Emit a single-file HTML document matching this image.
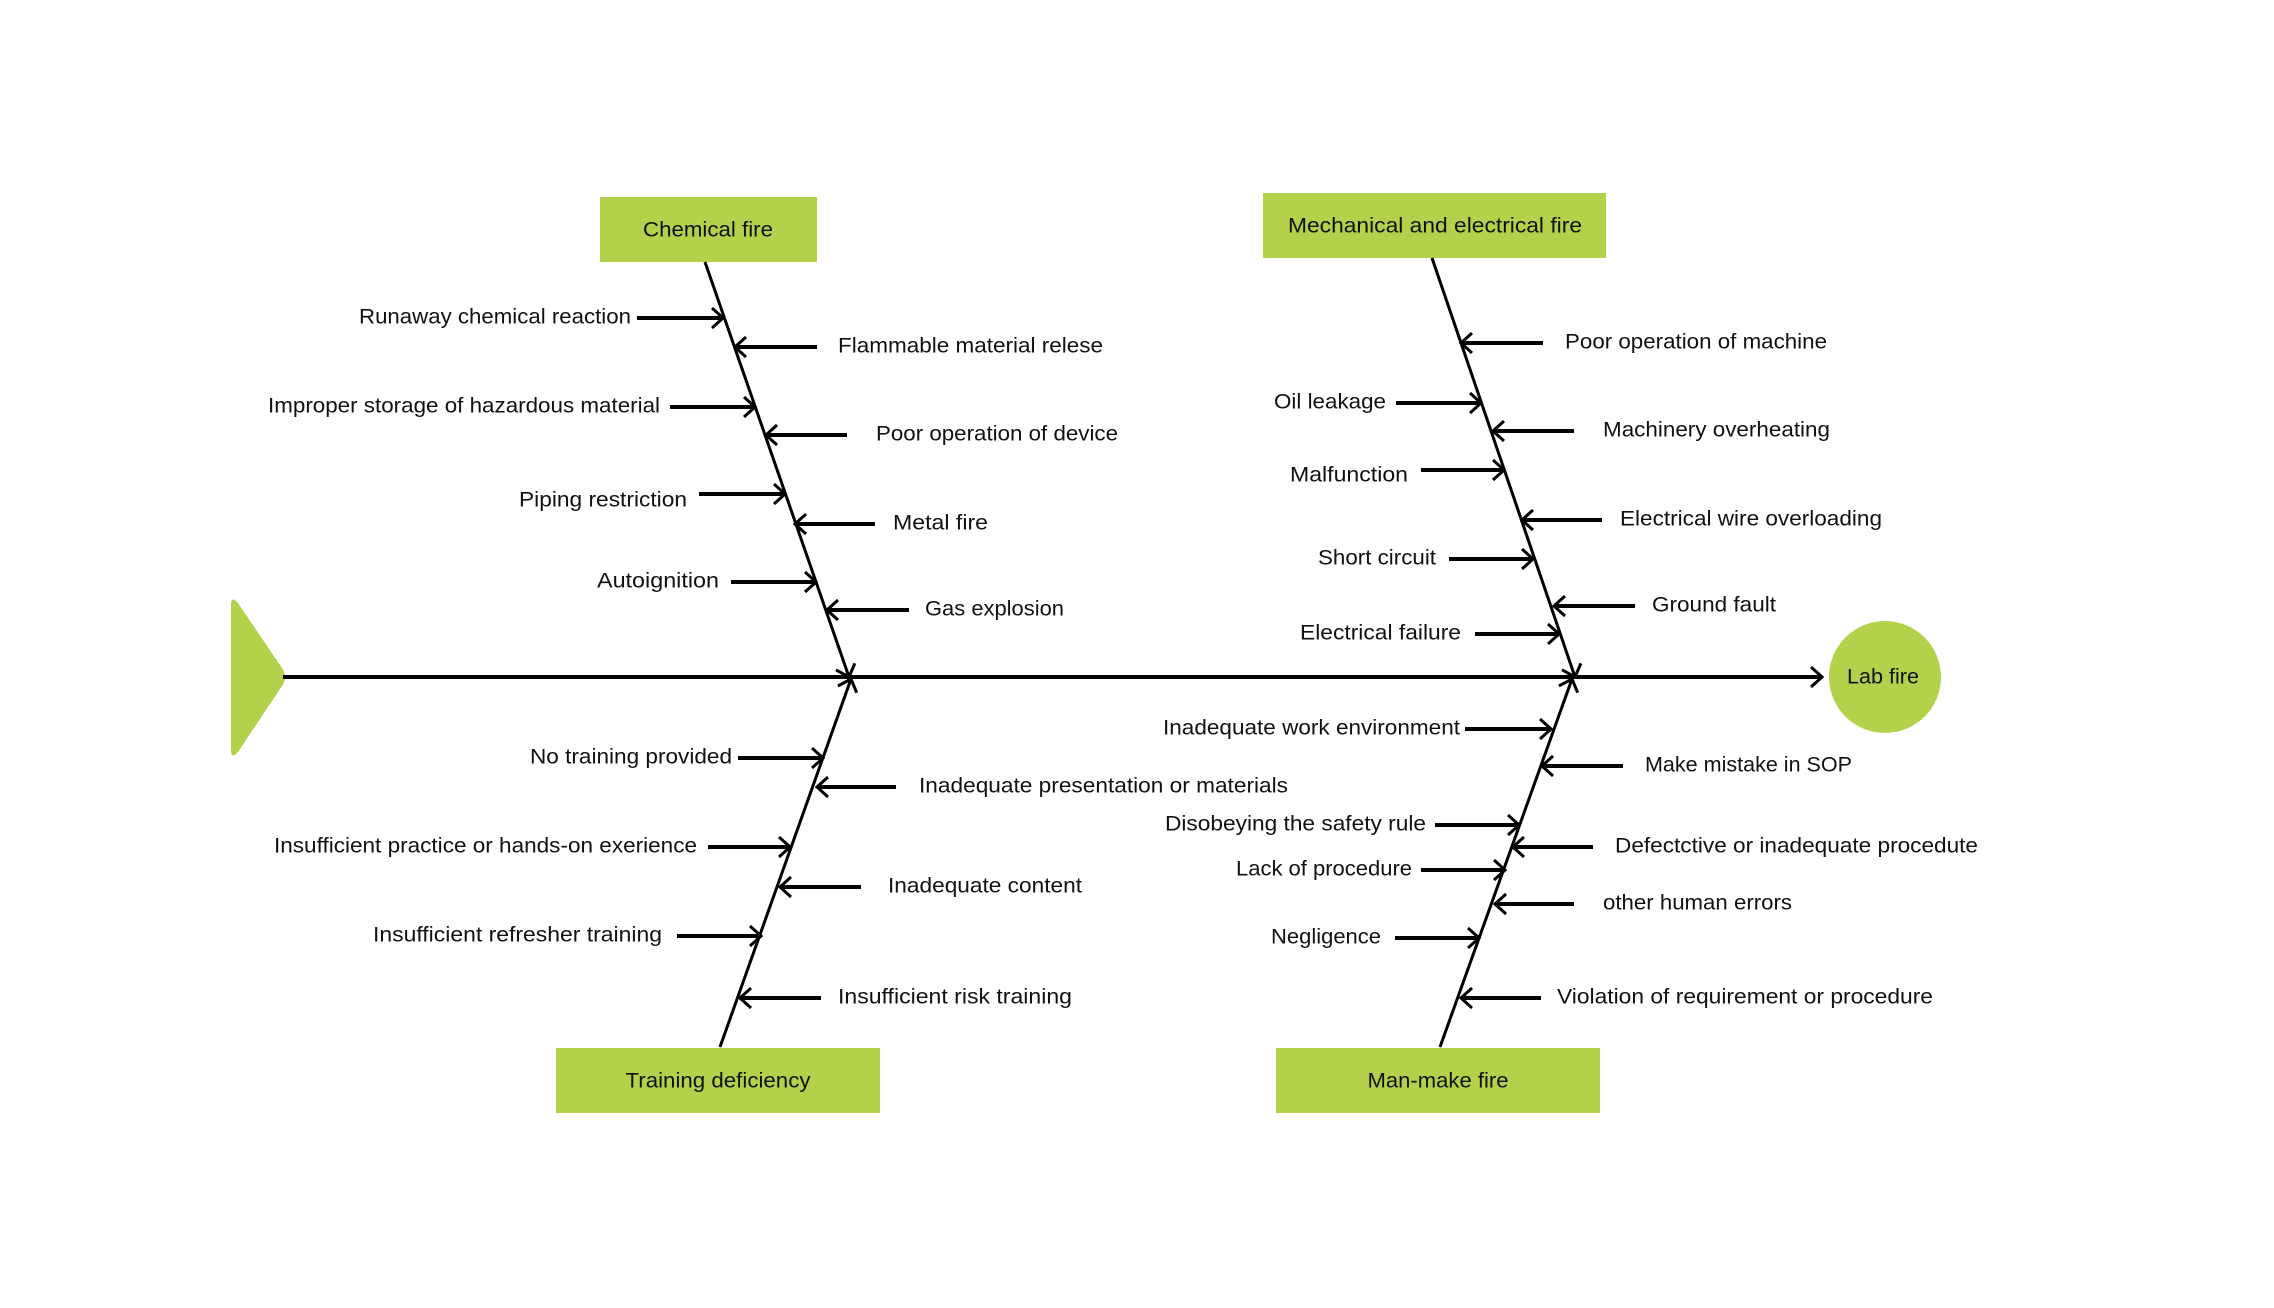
<!DOCTYPE html>
<html><head><meta charset="utf-8"><style>html,body{margin:0;padding:0;background:#fff;}svg{display:block}text{font-family:"Liberation Sans",sans-serif;font-size:21px;fill:#111;dominant-baseline:central}</style></head>
<body>
<svg width="2274" height="1308" viewBox="0 0 2274 1308" xmlns="http://www.w3.org/2000/svg">
<defs>
<marker id="a" viewBox="0 0 14 22" refX="12" refY="11" markerWidth="14" markerHeight="22" markerUnits="userSpaceOnUse" orient="auto">
<path d="M1,1 L12,11 L1,21" fill="none" stroke="#000" stroke-width="3"/>
</marker>
</defs>
<rect width="2274" height="1308" fill="#fff"/>
<!-- head -->
<path d="M231,605 Q231,595 238,603 L282,668 Q288,677 282,686 L238,752 Q231,760 231,750 Z" fill="#b3d14b"/>
<!-- spine -->
<line x1="283" y1="677" x2="1822" y2="677" stroke="#000" stroke-width="4" marker-end="url(#a)"/>
<circle cx="1885" cy="677" r="56" fill="#b3d14b"/>
<text x="1883" y="677" text-anchor="middle" textLength="72" lengthAdjust="spacingAndGlyphs">Lab fire</text>

<!-- boxes -->
<rect x="600" y="197" width="217" height="65" fill="#b3d14b"/>
<text x="708" y="230" text-anchor="middle" textLength="130" lengthAdjust="spacingAndGlyphs">Chemical fire</text>
<rect x="1263" y="193" width="343" height="65" fill="#b3d14b"/>
<text x="1435" y="226" text-anchor="middle" textLength="294" lengthAdjust="spacingAndGlyphs">Mechanical and electrical fire</text>
<rect x="556" y="1048" width="324" height="65" fill="#b3d14b"/>
<text x="718" y="1081" text-anchor="middle" textLength="185" lengthAdjust="spacingAndGlyphs">Training deficiency</text>
<rect x="1276" y="1048" width="324" height="65" fill="#b3d14b"/>
<text x="1438" y="1081" text-anchor="middle" textLength="141" lengthAdjust="spacingAndGlyphs">Man-make fire</text>

<!-- bones -->
<g stroke="#000" stroke-width="3" fill="none">
<line x1="705" y1="262" x2="849" y2="677" marker-end="url(#a)"/>
<line x1="1432" y1="258" x2="1575" y2="677" marker-end="url(#a)"/>
<line x1="720" y1="1047" x2="851" y2="679" marker-end="url(#a)"/>
<line x1="1440" y1="1047" x2="1572" y2="679" marker-end="url(#a)"/>
</g>

<!-- branches -->
<g stroke="#000" stroke-width="4" fill="none" marker-end="url(#a)">
<line x1="637" y1="318" x2="723" y2="318"/>
<line x1="670" y1="407" x2="755" y2="407"/>
<line x1="699" y1="494" x2="785" y2="494"/>
<line x1="731" y1="582" x2="816" y2="582"/>
<line x1="817" y1="347" x2="735" y2="347"/>
<line x1="847" y1="435" x2="766" y2="435"/>
<line x1="875" y1="524" x2="795" y2="524"/>
<line x1="909" y1="610" x2="827" y2="610"/>

<line x1="1543" y1="343" x2="1461" y2="343"/>
<line x1="1574" y1="431" x2="1493" y2="431"/>
<line x1="1602" y1="520" x2="1522" y2="520"/>
<line x1="1635" y1="606" x2="1554" y2="606"/>
<line x1="1396" y1="403" x2="1481" y2="403"/>
<line x1="1421" y1="470" x2="1504" y2="470"/>
<line x1="1449" y1="559" x2="1533" y2="559"/>
<line x1="1475" y1="634" x2="1559" y2="634"/>

<line x1="738" y1="758" x2="823" y2="758"/>
<line x1="708" y1="847" x2="790" y2="847"/>
<line x1="677" y1="936" x2="761" y2="936"/>
<line x1="896" y1="787" x2="817" y2="787"/>
<line x1="861" y1="887" x2="780" y2="887"/>
<line x1="821" y1="998" x2="740" y2="998"/>

<line x1="1465" y1="729" x2="1551" y2="729"/>
<line x1="1435" y1="825" x2="1519" y2="825"/>
<line x1="1421" y1="870" x2="1505" y2="870"/>
<line x1="1395" y1="938" x2="1479" y2="938"/>
<line x1="1623" y1="766" x2="1542" y2="766"/>
<line x1="1593" y1="847" x2="1513" y2="847"/>
<line x1="1574" y1="904" x2="1495" y2="904"/>
<line x1="1541" y1="998" x2="1461" y2="998"/>
</g>

<!-- labels -->
<g>
<text x="359" y="317" textLength="272" lengthAdjust="spacingAndGlyphs">Runaway chemical reaction</text>
<text x="268" y="406" textLength="392" lengthAdjust="spacingAndGlyphs">Improper storage of hazardous material</text>
<text x="519" y="500" textLength="168" lengthAdjust="spacingAndGlyphs">Piping restriction</text>
<text x="597" y="581" textLength="122" lengthAdjust="spacingAndGlyphs">Autoignition</text>
<text x="838" y="346" textLength="265" lengthAdjust="spacingAndGlyphs">Flammable material relese</text>
<text x="876" y="434" textLength="242" lengthAdjust="spacingAndGlyphs">Poor operation of device</text>
<text x="893" y="523" textLength="95" lengthAdjust="spacingAndGlyphs">Metal fire</text>
<text x="925" y="609" textLength="139" lengthAdjust="spacingAndGlyphs">Gas explosion</text>

<text x="1565" y="342" textLength="262" lengthAdjust="spacingAndGlyphs">Poor operation of machine</text>
<text x="1603" y="430" textLength="227" lengthAdjust="spacingAndGlyphs">Machinery overheating</text>
<text x="1620" y="519" textLength="262" lengthAdjust="spacingAndGlyphs">Electrical wire overloading</text>
<text x="1652" y="605" textLength="124" lengthAdjust="spacingAndGlyphs">Ground fault</text>
<text x="1274" y="402" textLength="112" lengthAdjust="spacingAndGlyphs">Oil leakage</text>
<text x="1290" y="475" textLength="118" lengthAdjust="spacingAndGlyphs">Malfunction</text>
<text x="1318" y="558" textLength="118" lengthAdjust="spacingAndGlyphs">Short circuit</text>
<text x="1300" y="633" textLength="161" lengthAdjust="spacingAndGlyphs">Electrical failure</text>

<text x="530" y="757" textLength="202" lengthAdjust="spacingAndGlyphs">No training provided</text>
<text x="274" y="846" textLength="423" lengthAdjust="spacingAndGlyphs">Insufficient practice or hands-on exerience</text>
<text x="373" y="935" textLength="289" lengthAdjust="spacingAndGlyphs">Insufficient refresher training</text>
<text x="919" y="786" textLength="369" lengthAdjust="spacingAndGlyphs">Inadequate presentation or materials</text>
<text x="888" y="886" textLength="194" lengthAdjust="spacingAndGlyphs">Inadequate content</text>
<text x="838" y="997" textLength="234" lengthAdjust="spacingAndGlyphs">Insufficient risk training</text>

<text x="1163" y="728" textLength="297" lengthAdjust="spacingAndGlyphs">Inadequate work environment</text>
<text x="1165" y="824" textLength="261" lengthAdjust="spacingAndGlyphs">Disobeying the safety rule</text>
<text x="1236" y="869" textLength="176" lengthAdjust="spacingAndGlyphs">Lack of procedure</text>
<text x="1271" y="937" textLength="110" lengthAdjust="spacingAndGlyphs">Negligence</text>
<text x="1645" y="765" textLength="207" lengthAdjust="spacingAndGlyphs">Make mistake in SOP</text>
<text x="1615" y="846" textLength="363" lengthAdjust="spacingAndGlyphs">Defectctive or inadequate procedute</text>
<text x="1603" y="903" textLength="189" lengthAdjust="spacingAndGlyphs">other human errors</text>
<text x="1557" y="997" textLength="376" lengthAdjust="spacingAndGlyphs">Violation of requirement or procedure</text>
</g>
</svg>
</body></html>
